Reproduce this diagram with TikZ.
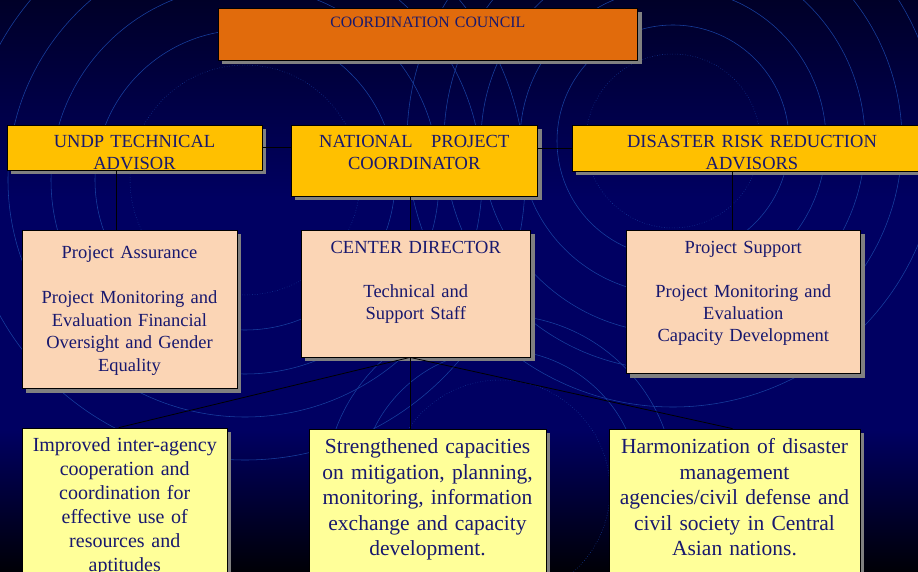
\documentclass[tikz,border=0pt]{standalone}
\usepackage{fontspec}
\setmainfont{Liberation Serif}
\usetikzlibrary{positioning,shadows}
\definecolor{councilorange}{RGB}{225,107,12}
\definecolor{leadyellow}{RGB}{255,192,0}
\definecolor{unitpeach}{RGB}{251,213,181}
\definecolor{goalyellow}{RGB}{255,255,153}
\definecolor{inknavy}{RGB}{24,24,110}
\definecolor{skytop}{RGB}{0,0,40}
\definecolor{skymid}{RGB}{0,0,98}
\definecolor{skybottom}{RGB}{0,0,6}
\definecolor{ringblue}{RGB}{24,64,160}
\definecolor{shadowgray}{RGB}{128,128,128}
\tikzset{
	box/.style={draw=black, line width=0.8bp, inner sep=0pt,
		drop shadow={shadow xshift=4bp, shadow yshift=-4bp, opacity=1, fill=shadowgray}},
	council box/.style={box, fill=councilorange},
	lead box/.style={box, fill=leadyellow},
	unit box/.style={box, fill=unitpeach},
	goal box/.style={box, fill=goalyellow},
	boxtext/.style={anchor=base, inner sep=0pt, text=inknavy, align=center, text width=#1},
	link/.style={draw=black, line width=0.8bp},
	ring/.style={draw=ringblue, line width=0.55bp},
	dotring/.style={ring, dotted, line width=0.5bp}
}
\begin{document}
\begin{tikzpicture}[x=1bp, y=-1bp]
	\useasboundingbox (0,0) rectangle (918,572);
	\clip (0,0) rectangle (918,572);
	\shade[top color=skytop, bottom color=skymid] (0,0) rectangle (918,201);
	\fill[skymid] (0,200) rectangle (918,431);
	\shade[top color=skymid, bottom color=skybottom] (0,430) rectangle (918,572);
	\foreach \r in {150,194,237,280}
		\draw[ring] (245,180) circle[radius=\r];
	\draw[dotring] (245,180) circle[radius=115];
	\foreach \r in {116,153,192,229,266}
		\draw[ring] (673,141) circle[radius=\r];
	\draw[dotring] (673,141) circle[radius=87];
	\foreach \r in {140,175}
		\draw[ring] (500,490) circle[radius=\r];
	\draw[dotring] (500,490) circle[radius=110];

	\node[council box, minimum width=419.6bp, minimum height=52bp] (council) at (427.8,34) {};
	\node[lead box, minimum width=255bp, minimum height=45bp] (undp) at (134.5,147.5) {};
	\node[lead box, minimum width=246.5bp, minimum height=71bp] (nat) at (414.25,160.5) {};
	\node[lead box, minimum width=360bp, minimum height=46bp] (drr) at (752,148) {};
	\node[unit box, minimum width=215bp, minimum height=158bp] (assur) at (129.5,309.5) {};
	\node[unit box, minimum width=229.5bp, minimum height=126.5bp] (director) at (415.75,293.75) {};
	\node[unit box, minimum width=234.6bp, minimum height=143.5bp] (support) at (743.3,302) {};
	\node[goal box, minimum width=204.5bp, minimum height=172bp] (cooper) at (124.75,514) {};
	\node[goal box, minimum width=237bp, minimum height=171bp] (capac) at (427.5,514.5) {};
	\node[goal box, minimum width=251bp, minimum height=171bp] (harmon) at (734.5,514.5) {};

	\coordinate (fan) at ([xshift=-5.75bp]director.south);
	\draw[link] (undp.east) -- (undp.east -| nat.west);
	\draw[link] (nat.east |- drr.west) -- (drr.west);
	\draw[link] ([xshift=-18.5bp]undp.south) -- ([xshift=-18.5bp]undp.south |- assur.north);
	\draw[link] ([xshift=-4.25bp]nat.south) -- ([xshift=-4.25bp]nat.south |- director.north);
	\draw[link] ([xshift=-19.5bp]drr.south) -- ([xshift=-19.5bp]drr.south |- support.north);
	\draw[link] (fan) -- ([xshift=-6bp]cooper.north);
	\draw[link] (fan) -- (fan |- capac.north);
	\draw[link] (fan) -- ([xshift=-2bp]harmon.north);

	\node[boxtext=400bp, font=\fontsize{15.8bp}{19bp}\selectfont] (councillbl) at ([yshift=-20.2bp]council.north) {COORDINATION COUNCIL};
	\node[boxtext=250bp, font=\fontsize{18.5bp}{22.3bp}\selectfont] (undplbl) at ([yshift=-23.1bp]undp.north) {UNDP TECHNICAL\\ADVISOR};
	\node[boxtext=240bp, font=\fontsize{18.5bp}{22.3bp}\selectfont] (natlbl) at ([yshift=-23.1bp]nat.north) {NATIONAL\ \ \ PROJECT\\COORDINATOR};
	\node[boxtext=350bp, font=\fontsize{18.5bp}{22.3bp}\selectfont] (drrlbl) at ([yshift=-23.1bp]drr.north) {DISASTER RISK REDUCTION\\ADVISORS};
	\node[boxtext=210bp, font=\fontsize{18.5bp}{22.4bp}\selectfont] (assurlbl) at ([yshift=-28bp]assur.north) {Project Assurance\\[23.4bp]Project Monitoring and\\Evaluation Financial\\Oversight and Gender\\Equality};
	\node[boxtext=225bp, font=\fontsize{18.5bp}{22.3bp}\selectfont] (directorlbl) at ([yshift=-23.3bp]director.north) {CENTER DIRECTOR\\[21.7bp]Technical and\\Support Staff};
	\node[boxtext=230bp, font=\fontsize{18.5bp}{22.3bp}\selectfont] (supportlbl) at ([yshift=-23.3bp]support.north) {Project Support\\[21.7bp]Project Monitoring and\\Evaluation\\Capacity Development};
	\node[boxtext=200bp, font=\fontsize{20bp}{24bp}\selectfont] (cooperlbl) at ([yshift=-24bp]cooper.north) {Improved inter-agency\\cooperation and\\coordination for\\effective use of\\resources and\\aptitudes};
	\node[boxtext=235bp, font=\fontsize{21.5bp}{25.6bp}\selectfont] (capaclbl) at ([yshift=-24.8bp]capac.north) {Strengthened capacities\\on mitigation, planning,\\monitoring, information\\exchange and capacity\\development.};
	\node[boxtext=250bp, font=\fontsize{21.5bp}{25.6bp}\selectfont] (harmonlbl) at ([yshift=-24.8bp]harmon.north) {Harmonization of disaster\\management\\agencies/civil defense and\\civil society in Central\\Asian nations.};
\end{tikzpicture}
\end{document}
